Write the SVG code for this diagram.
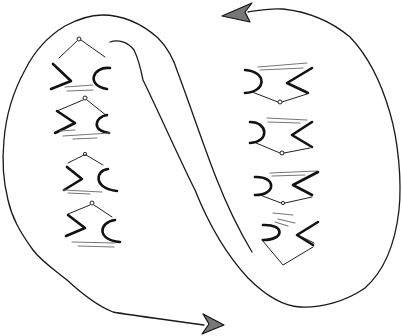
<svg xmlns="http://www.w3.org/2000/svg" width="402" height="336" viewBox="0 0 402 336">
<style>
.loop{fill:none;stroke:#1a1a1a;stroke-width:1.3;stroke-linecap:round;stroke-linejoin:round}
.thick{fill:none;stroke:#111;stroke-width:2.6;stroke-linecap:round;stroke-linejoin:round}
.thin{fill:none;stroke:#222;stroke-width:1;stroke-linecap:round;stroke-linejoin:round}
.under{fill:none;stroke:#777;stroke-width:1.1;stroke-linecap:round}
.ring{fill:#fff;stroke:#222;stroke-width:1}
.head{fill:#777;stroke:#111;stroke-width:1.2;stroke-linejoin:round}
</style>
<rect width="402" height="336" fill="#fff"/>
<g id="connectors">
<path class="loop" d="M 204,325 C 170,320 135,316 113,312 C 95,305 80,292 67,280 C 55,270 42,262 33,250 C 20,232 12,218 8,200 C 3,180 2,160 4,140 C 6,115 14,90 25,70 C 35,50 50,35 65,26 C 80,18 90,15 102,15 C 120,15 140,22 158,38 C 168,48 174,60 178,73 C 190,105 205,150 217,180 C 228,208 240,232 252,252"/>
<path class="loop" d="M 110,42 C 118,39 128,42 134,50 C 138,58 141,70 143,80 C 160,115 180,160 195,190 C 205,215 222,250 248,278 C 265,295 282,306 300,307 C 320,308 345,302 365,288 C 383,272 395,245 399,210 C 402,180 398,140 390,113 C 382,85 370,58 350,37 C 332,22 310,12 283,9 C 270,8 260,10 248,12"/>
<polygon class="head" points="222,16 252,3 245,12 250,22"/>
<polygon class="head" points="224,325 203,314 209,324 202,334"/>
</g>
<g id="left-1">
<circle class="ring" cx="79" cy="39" r="2"/>
<path class="thin" d="M 77,41 L 59,58 M 81,40 L 105,57"/>
<path class="thick" d="M 53,64 L 71,81 L 51,89"/>
<path class="thick" d="M 110,68 C 92,66 86,86 107,89"/>
<path class="under" d="M 65,87 L 93,85 M 67,91 L 93,90"/>
</g>
<g id="left-2">
<circle class="ring" cx="85" cy="98" r="2"/>
<path class="thin" d="M 83,100 L 57,111 M 87,100 L 107,116"/>
<path class="thick" d="M 57,111 L 75,123 L 55,133"/>
<path class="thick" d="M 107,115 C 95,117 91,130 109,133"/>
<path class="under" d="M 63,136 L 110,133 M 73,139 L 97,138 M 60,131 L 75,130"/>
</g>
<g id="left-3">
<circle class="ring" cx="85" cy="154" r="1.6"/>
<path class="thin" d="M 84,155 L 68,163 M 86,155 L 103,165"/>
<path class="thick" d="M 67,167 L 82,179 L 64,190"/>
<path class="thick" d="M 108,169 C 96,170 92,188 117,191"/>
<path class="under" d="M 63,190 L 102,192 M 68,193 L 90,194"/>
</g>
<g id="left-4">
<circle class="ring" cx="92" cy="203" r="2"/>
<path class="thin" d="M 90,205 L 68,214 M 94,205 L 112,217"/>
<path class="thick" d="M 68,215 L 85,228 L 66,236"/>
<path class="thick" d="M 115,220 C 99,222 96,240 120,242"/>
<path class="under" d="M 72,242 L 115,243 M 78,246 L 114,247"/>
</g>
<g id="right-1">
<path class="under" d="M 258,67 L 307,63 M 260,70 L 303,68"/>
<path class="thick" d="M 245,70 C 268,72 266,92 245,93"/>
<path class="thick" d="M 312,68 L 287,83 L 308,93"/>
<path class="thin" d="M 252,92 L 278,102 M 282,102 L 307,94 M 290,84 L 306,91"/>
<circle class="ring" cx="280" cy="102" r="2"/>
</g>
<g id="right-2">
<path class="under" d="M 267,118 L 307,120 M 268,122 L 300,123"/>
<path class="thick" d="M 250,122 C 268,122 270,142 250,143"/>
<path class="thick" d="M 312,122 L 292,135 L 312,147"/>
<path class="thin" d="M 256,143 L 280,153 M 284,153 L 310,148"/>
<circle class="ring" cx="282" cy="153" r="2"/>
</g>
<g id="right-3">
<path class="under" d="M 270,173 L 317,171 M 272,176 L 305,175"/>
<path class="thick" d="M 255,177 C 276,176 277,195 255,195"/>
<path class="thick" d="M 318,172 L 293,185 L 312,195"/>
<path class="thin" d="M 260,195 L 281,203 M 285,203 L 312,197"/>
<circle class="ring" cx="283" cy="203" r="1.6"/>
</g>
<g id="right-4">
<path class="under" d="M 273,213 L 293,215 M 278,219 L 295,223 M 275,222 L 288,226"/>
<path class="thick" d="M 263,225 C 285,224 285,240 263,240"/>
<path class="thick" d="M 318,222 L 297,235 L 313,245"/>
<path class="thin" d="M 262,240 L 283,265 L 313,247 M 300,236 L 314,243"/>
</g>
</svg>
